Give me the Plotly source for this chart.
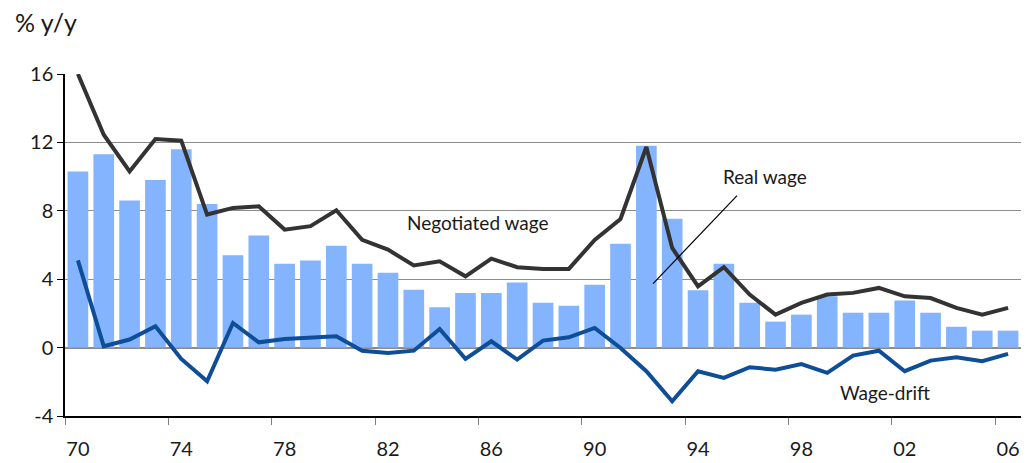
import plotly.graph_objects as go

years = list(range(1970, 2007))
real_wage = [10.3, 11.3, 8.6, 9.8, 11.6, 8.4, 5.4, 6.55, 4.9, 5.1, 5.96, 4.9,
             4.38, 3.39, 2.36, 3.2, 3.2, 3.8, 2.63, 2.45, 3.68, 6.08, 11.8, 7.54,
             3.35, 4.91, 2.63, 1.52, 1.93, 3.0, 2.04, 2.04, 2.75, 2.04, 1.22, 0.99, 0.99]
negotiated_wage = [16.0, 12.45, 10.3, 12.2, 12.1, 7.78, 8.17, 8.26, 6.9, 7.1, 8.03, 6.3,
                   5.73, 4.8, 5.05, 4.17, 5.2, 4.7, 4.6, 4.6, 6.3, 7.52, 11.73, 5.83,
                   3.58, 4.7, 3.1, 1.93, 2.61, 3.1, 3.2, 3.49, 3.0, 2.9, 2.32, 1.93, 2.32]
wage_drift = [5.1, 0.08, 0.47, 1.25, -0.66, -1.97, 1.44, 0.31, 0.5, 0.6, 0.66, -0.18,
              -0.31, -0.18, 1.09, -0.66, 0.37, -0.7, 0.41, 0.6, 1.15, -0.02, -1.38, -3.14,
              -1.38, -1.77, -1.15, -1.29, -0.96, -1.48, -0.47, -0.18, -1.38, -0.76, -0.57, -0.8, -0.37]
tick_years = [1970, 1974, 1978, 1982, 1986, 1990, 1994, 1998, 2002, 2006]
tick_labels = ["70", "74", "78", "82", "86", "90", "94", "98", "02", "06"]
y_ticks = [-4, 0, 4, 8, 12, 16]
y_tick_labels = ["-4", "0", "4", "8", "12", "16"]

FONT = "Lato"
TXT = "#1a1a1a"

fig = go.Figure()
fig.add_trace(go.Bar(x=years, y=real_wage, width=0.8, marker_color="#85B4FF",
                     marker_line_width=0, name="Real wage"))
fig.add_trace(go.Scatter(x=years, y=negotiated_wage, mode="lines",
                         line=dict(color="#333333", width=4), name="Negotiated wage"))
fig.add_trace(go.Scatter(x=years, y=wage_drift, mode="lines",
                         line=dict(color="#0E4D98", width=4), name="Wage-drift"))

fig.update_layout(
    width=1036, height=463,
    margin=dict(l=65, r=15, t=74, b=47),
    plot_bgcolor="white", paper_bgcolor="white",
    showlegend=False,
    font=dict(family=FONT, size=19, color=TXT),
    xaxis=dict(range=[1969.5, 2006.5], tickvals=tick_years, ticktext=tick_labels,
               ticks="outside", ticklen=14, tickcolor="rgba(0,0,0,0)",
               showgrid=False, zeroline=False, automargin=False,
               showline=True, linecolor="black", linewidth=1.5,
               tickfont=dict(family=FONT, size=20, color=TXT),
               minor=dict(tick0=1969.5, dtick=4, ticks="outside", ticklen=7,
                          tickcolor="#808080", tickwidth=1, showgrid=False)),
    yaxis=dict(range=[-4, 16], tickvals=y_ticks, ticktext=y_tick_labels,
               ticks="outside", ticklen=6, tickcolor="black", automargin=False,
               showgrid=True, gridcolor="#8c8c8c", gridwidth=1,
               zeroline=True, zerolinecolor="#8c8c8c", zerolinewidth=2,
               showline=True, linecolor="black", linewidth=1.5,
               tickfont=dict(family=FONT, size=20, color=TXT)),
)

fig.add_annotation(text="% y/y", xref="paper", yref="paper", x=-0.0544, y=1.152,
                   xanchor="left", yanchor="middle", showarrow=False,
                   font=dict(family=FONT, size=25, color=TXT))
fig.add_annotation(text="Negotiated wage", x=1985.5, y=7.3, showarrow=False,
                   font=dict(family=FONT, size=19, color=TXT))
fig.add_annotation(text="Real wage", x=1996.6, y=10.0, showarrow=False,
                   font=dict(family=FONT, size=19, color=TXT))
fig.add_annotation(text="Wage-drift", x=2001.24, y=-2.63, showarrow=False,
                   font=dict(family=FONT, size=19, color=TXT))
fig.add_shape(type="line", x0=1992.26, y0=3.74, x1=1995.51, y1=8.89,
              line=dict(color="black", width=1.2))

fig.write_html("out.html", config={"displayModeBar": False},
               post_script="document.body.style.margin='0';")
